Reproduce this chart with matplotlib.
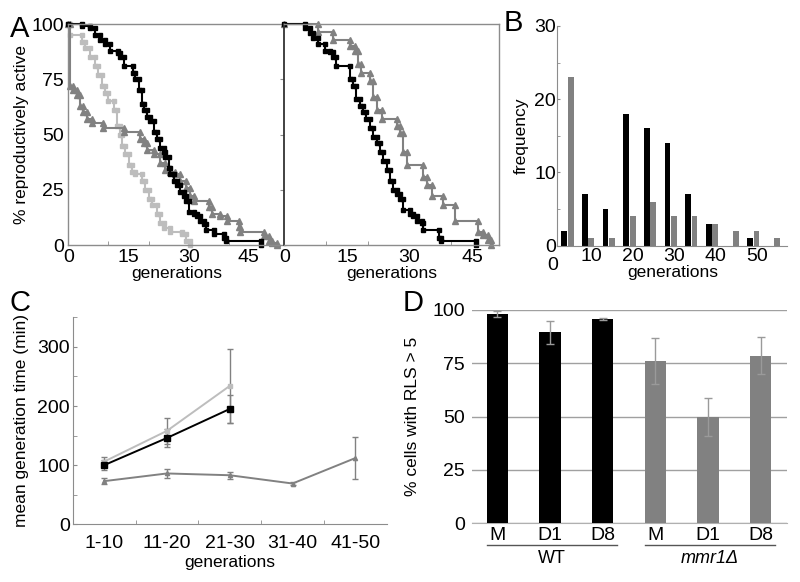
import numpy as np
import matplotlib
matplotlib.use('Agg')
import matplotlib.pyplot as plt
import matplotlib.transforms as mtransforms

plt.rcParams['font.family'] = ['Liberation Sans', 'DejaVu Sans']

# panel A left: survival curves (generation where the step starts, % still dividing)
a1_black_gen = [0, 3.3, 5.4, 6.7, 7.9, 9.2, 10.4, 12.5, 12.9, 13.8, 16.1, 16.7, 17.5, 18.3, 18.9, 19.6,
                20.4, 21.3, 22.1, 22.9, 23.8, 24.2, 25.0, 25.4, 26.3, 27.1, 27.9, 28.7, 29.2, 30.0, 31.3,
                32.1, 32.9, 33.8, 34.2, 36.3, 38.8, 39.2, 47.9]
a1_black_pct = [100, 99, 98, 95, 93, 91, 88, 87, 85, 81, 78, 75, 70, 64, 61, 58, 56, 51, 48, 44, 42,
                40, 35, 32, 29, 27, 24, 22, 20, 15, 14, 13, 11, 9.5, 7, 5, 3, 2, 0]
a1_light_gen = [0, 0.4, 3.4, 4.2, 5.4, 6.7, 7.5, 8.4, 9.2, 10.0, 11.3, 12.1, 12.9, 13.4, 14.2, 15.0,
                15.9, 16.7, 18.4, 19.2, 20.0, 20.9, 22.1, 22.9, 23.8, 25.4, 28.4, 29.2, 30.4]
a1_light_pct = [100, 95, 92, 89, 85, 81, 77, 72, 69, 65, 61, 54, 50, 45, 41, 36, 33, 32, 29, 25, 21,
                18, 14, 10, 7.5, 6, 5, 2, 0]
a1_gray_gen = [0, 0.4, 1.25, 2.1, 2.9, 3.75, 4.6, 5.85, 8.75, 13.75, 17.9, 18.75, 19.6, 21.25, 22.9,
               24.2, 25.4, 26.7, 27.9, 29.2, 30.4, 31.25, 35.0, 35.85, 37.9, 39.6, 42.5, 42.9, 48.75,
               50.0, 50.85, 51.9]
a1_gray_pct = [100, 72, 70, 68, 63, 60, 57, 55, 53, 51, 48, 46, 43, 41, 37, 34, 33, 32, 29, 26, 22,
               20, 17, 14, 13, 11, 8, 6, 4, 2, 1, 0]

# panel A right
a2_black_gen = [0, 4.95, 6.1, 6.9, 8.1, 9.7, 10.9, 11.7, 12.5, 15.7, 16.5, 17.3, 18.1, 18.9, 19.7,
                20.5, 21.3, 22.1, 22.9, 23.7, 24.5, 25.3, 26.1, 26.9, 27.7, 28.5, 30.1, 30.9, 31.7,
                32.9, 33.3, 37.2, 37.6, 46.0]
a2_black_pct = [100, 98, 96, 93.5, 91, 88, 87.5, 85, 81, 75, 72, 66, 63, 60, 57, 53, 49, 46, 42, 38,
                34, 29, 25, 23, 21, 16, 14, 13, 11, 10, 7, 3, 2, 0]
a2_gray_gen = [0, 8.1, 11.7, 15.7, 16.9, 17.7, 18.5, 20.5, 21.3, 22.1, 23.3, 26.9, 27.7, 28.5, 29.3,
               33.3, 34.1, 35.3, 38.0, 40.8, 46.4, 47.6, 48.8, 49.6]
a2_gray_pct = [100, 96.5, 93, 90, 88, 82, 78, 74, 67, 61, 57, 54, 50.5, 42, 36, 31, 27, 22, 18, 11,
               6, 4.5, 2.3, 0]

# panel B: lifespan histogram, 5-generation bins
b_bin_end = [5, 10, 15, 20, 25, 30, 35, 40, 45, 50, 55]
b_black = [2, 7, 5, 18, 16, 14, 7, 3, 0, 1, 0]
b_gray = [23, 1, 1, 4, 6, 4, 4, 3, 2, 2, 1]

# panel C: mean generation time per window
c_bins = ['1-10', '11-20', '21-30', '31-40', '41-50']
c_black = [100, 146, 195]
c_black_err = [8, 15, 23]
c_light = [106, 158, 234]
c_light_err = [7, 22, 62]
c_gray = [73, 86, 83, 69, 112]
c_gray_err = [5, 8, 6, 3, 36]

# panel D
d_labels = ['M', 'D1', 'D8', 'M', 'D1', 'D8']
d_values = [98, 89.5, 95.6, 76, 49.8, 78.6]
d_err = [1.5, 5.5, 0.5, 10.7, 9, 8.5]
d_groups = ['WT', 'mmr1Δ']

BLACK = '#000000'
LIGHT = '#bdbdbd'
MID = '#818181'
AXIS = '#8c8c8c'
TICK_FS = 14
LABEL_FS = 12.5


def steps(gen, pct):
    g = np.repeat(gen, 2)[1:]
    p = np.repeat(pct, 2)[:-1]
    return g, p


def survival(ax, gen, pct, color, marker, ms):
    g, p = steps(gen, pct)
    ax.plot(g, p, color=color, lw=1.5, marker=marker, ms=ms, mec=color, mfc=color, clip_on=False)


fig = plt.figure(figsize=(8, 5.82), dpi=100)

# ---- A ----
axA1 = fig.add_axes([0.0854, 0.579, 0.2709, 0.3797])
axA2 = fig.add_axes([0.3554, 0.579, 0.268, 0.3797])

survival(axA1, a1_light_gen, a1_light_pct, LIGHT, 's', 3.4)
survival(axA1, a1_gray_gen, a1_gray_pct, MID, '^', 4)
survival(axA1, a1_black_gen, a1_black_pct, BLACK, 's', 3.4)
survival(axA2, a2_gray_gen, a2_gray_pct, MID, '^', 4)
survival(axA2, a2_black_gen, a2_black_pct, BLACK, 's', 3.4)

for ax, xmax in ((axA1, 54), (axA2, 51.4)):
    ax.set_xlim(0, xmax)
    ax.set_ylim(0, 100)
    ax.set_xticks([0, 15, 30, 45])
    ax.set_xticks([10, 20, 30, 40, 50], minor=True)
    ax.set_yticks([0, 25, 50, 75, 100])
    ax.tick_params(axis='x', which='major', length=0, labelsize=TICK_FS, pad=3)
    ax.tick_params(axis='x', which='minor', direction='in', length=3, color=AXIS)
    ax.set_xlabel('generations', fontsize=LABEL_FS, labelpad=0)
    for s in ax.spines.values():
        s.set_color(AXIS)
        s.set_linewidth(1)

axA1.spines['right'].set_visible(False)
axA1.tick_params(axis='y', length=0, labelsize=TICK_FS, pad=3)
axA1.set_ylabel('% reproductively active', fontsize=LABEL_FS, labelpad=2)
axA2.spines['left'].set_color('#333333')
axA2.spines['left'].set_linewidth(1.3)
axA2.set_yticks([25, 50, 75])
axA2.tick_params(axis='y', direction='out', length=3, color=AXIS, labelleft=False)

# ---- B ----
axB = fig.add_axes([0.6966, 0.578, 0.2875, 0.3775])
ends = np.array(b_bin_end, dtype=float)
axB.bar(ends - 1.6, b_black, width=1.4, color=BLACK, linewidth=0)
axB.bar(ends - 0.05, b_gray, width=1.4, color=MID, linewidth=0)
axB.set_xlim(1.7, 57.4)
axB.set_ylim(0, 30)
axB.set_xticks([10, 20, 30, 40, 50])
axB.set_yticks([0, 10, 20, 30])
axB.set_yticks([5, 15, 25], minor=True)
axB.tick_params(axis='x', length=0, labelsize=TICK_FS, pad=2)
axB.tick_params(axis='y', which='both', direction='in', length=2, color=AXIS, labelsize=TICK_FS, pad=1)
axB.text(0.6, -0.05, '0', transform=mtransforms.blended_transform_factory(axB.transData, axB.transAxes),
         ha='center', va='top', fontsize=TICK_FS, clip_on=False)
axB.set_xlabel('generations', fontsize=LABEL_FS, labelpad=0)
axB.set_ylabel('frequency', fontsize=LABEL_FS, labelpad=4)
for side in ('top', 'right'):
    axB.spines[side].set_visible(False)
for side in ('left', 'bottom'):
    axB.spines[side].set_color(AXIS)

# ---- C ----
axC = fig.add_axes([0.0909, 0.0991, 0.3925, 0.3557])
xc = np.arange(len(c_bins))
ebar = dict(ecolor=MID, elinewidth=1, capsize=2, capthick=1)
axC.errorbar(xc, c_gray, yerr=c_gray_err, color=MID, lw=1.4, marker='^', ms=3, **ebar)
axC.errorbar(xc[:3], c_light, yerr=c_light_err, color=LIGHT, lw=1.4, marker='s', ms=3, **ebar)
axC.errorbar(xc[:3], c_black, yerr=c_black_err, color=BLACK, lw=1.4, marker='s', ms=4, **ebar)
axC.set_xlim(-0.5, 4.5)
axC.set_ylim(0, 350)
axC.set_xticks(xc)
axC.set_xticklabels(c_bins)
axC.set_xticks([0.5, 1.5, 2.5, 3.5], minor=True)
axC.set_yticks([0, 100, 200, 300])
axC.set_yticks([50, 150, 250, 350], minor=True)
axC.tick_params(axis='x', which='major', length=0, labelsize=TICK_FS, pad=8)
axC.tick_params(axis='both', which='minor', direction='in', length=3, color=AXIS)
axC.tick_params(axis='y', which='major', direction='in', length=3, color=AXIS, labelsize=TICK_FS, pad=2)
axC.set_xlabel('generations', fontsize=LABEL_FS, labelpad=2)
axC.set_ylabel('mean generation time (min)', fontsize=LABEL_FS, labelpad=6)
for side in ('top', 'right'):
    axC.spines[side].set_visible(False)
for side in ('left', 'bottom'):
    axC.spines[side].set_color(AXIS)

# ---- D ----
axD = fig.add_axes([0.5896, 0.1009, 0.394, 0.3665])
xd = np.arange(len(d_labels))
d_colors = [BLACK] * 3 + [MID] * 3
axD.bar(xd, d_values, width=0.41, color=d_colors, linewidth=0, zorder=3)
axD.errorbar(xd, d_values, yerr=d_err, fmt='none', ecolor='#9a9a9a', elinewidth=1, capsize=3,
             capthick=1, zorder=4, clip_on=False)
axD.set_xlim(-0.49, 5.5)
axD.set_ylim(0, 100)
axD.set_yticks([0, 25, 50, 75, 100])
axD.set_xticks(xd)
axD.set_xticklabels(d_labels)
axD.yaxis.grid(True, color='#a0a0a0', lw=1)
axD.set_axisbelow(True)
axD.tick_params(axis='both', length=0, labelsize=TICK_FS)
axD.tick_params(axis='y', pad=5)
axD.tick_params(axis='x', pad=3)
axD.set_ylabel('% cells with RLS > 5', fontsize=LABEL_FS, labelpad=9)
for side in ('top', 'right', 'left'):
    axD.spines[side].set_visible(False)
axD.spines['bottom'].set_color('#b0b0b0')

trD = mtransforms.blended_transform_factory(axD.transData, axD.transAxes)
for i, name in enumerate(d_groups):
    x0, x1 = 3 * i - 0.2, 3 * i + 2.27
    axD.plot([x0, x1], [-0.102, -0.102], color='#555555', lw=1, transform=trD, clip_on=False)
    axD.text((x0 + x1) / 2, -0.165, name, transform=trD, ha='center', va='center',
             fontsize=LABEL_FS + 0.5, style='italic' if i == 1 else 'normal')

# panel letters
for letter, x, y in (('A', 0.013, 0.975), ('B', 0.630, 0.985), ('C', 0.012, 0.503), ('D', 0.503, 0.503)):
    fig.text(x, y, letter, fontsize=21, va='top', ha='left')

fig.savefig('out.png', dpi=100)
